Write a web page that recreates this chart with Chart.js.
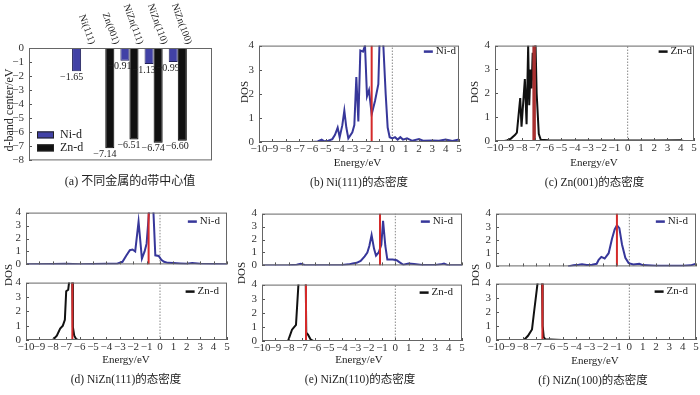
<!DOCTYPE html>
<html>
<head>
<meta charset="utf-8">
<script src="https://cdn.jsdelivr.net/npm/chart.js@4"></script>
<style>
  body { margin: 0; background: #fff; }
  #page { position: relative; width: 700px; height: 395px; overflow: hidden;
          font-family: "Liberation Serif", "Noto Sans CJK SC", serif; color: #222; }
  canvas { position: absolute; }
  .t { position: absolute; white-space: nowrap; transform: translate(-50%, -50%); }
  .v { transform: translate(-50%, -50%) rotate(-90deg); }
</style>
</head>
<body>
<div id="page"></div>
<script>
// d-band centres (eV) per surface
const surfaces = ['Ni(111)', 'Zn(001)', 'NiZn(111)', 'NiZn(110)', 'NiZn(100)'];
const niCenter = [-1.65, null, -0.91, -1.13, -0.99];
const znCenter = [null, -7.14, -6.51, -6.74, -6.60];

// projected DOS curves, [energy eV, DOS]
const ni111 = [[-10,0],[-6,0],[-5.6,0.02],[-5.3,0.1],[-5.1,0.03],[-4.8,0.05],[-4.5,0.12],[-4.3,0.3],
  [-4.1,0.6],[-3.95,0.2],[-3.75,0.7],[-3.6,1.3],[-3.45,0.6],[-3.3,0.15],[-3.0,0.4],[-2.85,0.7],
  [-2.7,2.7],[-2.55,0.85],[-2.4,3.8],[-2.2,3.75],[-2.05,4.0],[-1.9,1.9],[-1.75,2.15],[-1.55,1.15],
  [-1.3,1.7],[-1.05,2.4],[-0.95,4.3],[-0.7,4.3],[-0.5,2.0],[-0.35,0.6],[-0.2,0.2],[0,0.15],[0.2,0.2],
  [0.4,0.1],[0.6,0.2],[0.8,0.1],[1.1,0.15],[1.5,0.05],[2.0,0.12],[2.3,0.05],[3.0,0.06],[3.5,0.05],
  [4.0,0.1],[4.5,0.04],[5,0.1]];
const zn001 = [[-9.3,0],[-9.1,0.02],[-8.8,0.1],[-8.5,0.25],[-8.35,0.35],[-8.1,1.8],[-8.0,0.6],
  [-7.75,2.6],[-7.62,0.7],[-7.5,4.0],[-7.42,1.5],[-7.32,3.0],[-7.24,2.2],[-7.16,3.7],[-7.06,2.5],
  [-6.95,4.2],[-6.86,2.0],[-6.7,0.3],[-6.55,0.05],[-6,0.03],[-5,0.02],[-3,0.02],[0,0.02],[2,0.02],
  [4,0.03],[4.2,0]];
const nizn111Ni = [[-10,0.02],[-8,0.04],[-7,0.05],[-6,0.02],[-5,0.04],[-4,0.05],[-3.2,0.05],[-2.8,0.2],
  [-2.5,0.7],[-2.25,1.1],[-2.05,1.15],[-1.85,1.0],[-1.6,3.3],[-1.35,0.45],[-1.15,1.0],[-1.0,1.6],
  [-0.8,4.3],[-0.5,4.3],[-0.35,0.7],[-0.1,0.65],[0.1,0.35],[0.3,0.2],[0.6,0.12],[1.0,0.1],[1.5,0.07],
  [2.0,0.05],[2.4,0.1],[3.0,0.05],[4.0,0.03],[5,0.02]];
const nizn111Zn = [[-8.0,0],[-7.7,0.3],[-7.45,0.8],[-7.25,1.0],[-7.1,1.4],[-7.0,3.4],[-6.85,3.5],
  [-6.75,4.3],[-6.55,4.3],[-6.5,0.9],[-6.4,0.3],[-6.25,0.05],[-6.1,0]];
const nizn110Ni = [[-10,0],[-8,0.01],[-7.4,0.05],[-7.1,0.12],[-6.8,0.03],[-6,0.01],[-4,0.03],[-3.5,0.08],
  [-3.2,0.15],[-2.9,0.2],[-2.6,0.35],[-2.3,0.7],[-2.1,1.0],[-1.95,1.5],[-1.78,2.35],[-1.6,1.3],
  [-1.45,0.75],[-1.25,1.0],[-1.05,1.6],[-0.92,3.45],[-0.75,1.5],[-0.6,0.45],[-0.2,0.45],[0.1,0.4],
  [0.3,0.25],[0.6,0.05],[1.0,0.15],[1.4,0.1],[2,0.03],[3,0.04],[3.4,0.08],[3.65,0.15],[3.9,0.04],
  [4.5,0.02],[5,0.02]];
const nizn110Zn = [[-8.05,0],[-7.75,0.8],[-7.45,1.15],[-7.25,4.3],[-6.72,4.3],[-6.68,0.6],[-6.55,0.45],
  [-6.35,0.1],[-6.15,0]];
const nizn100Ni = [[-4.6,0],[-4.2,0.08],[-3.8,0.12],[-3.55,0.16],[-3.2,0.1],[-2.8,0.12],[-2.45,0.2],
  [-2.3,0.5],[-2.1,0.72],[-1.85,0.6],[-1.55,1.0],[-1.3,2.1],[-1.1,2.8],[-0.93,3.12],[-0.75,2.9],
  [-0.55,1.66],[-0.3,0.65],[-0.05,0.25],[0.3,0.15],[0.75,0.2],[1.0,0.1],[2,0.05],[3,0.05],[4,0.04],
  [4.6,0.08],[5,0.2]];
const nizn100Zn = [[-7.9,0],[-7.6,0.3],[-7.3,0.75],[-7.15,1.95],[-6.95,3.5],[-6.85,4.3],[-6.55,4.3],
  [-6.5,1.0],[-6.42,0.2],[-6.3,0.05],[-5.5,0.02],[-5.05,0]];

// red centre markers as drawn in panels (b),(d),(e),(f) and (c),(d),(e),(f)
const markNi = [-1.55, -0.85, -1.15, -0.93];
const markZn = [-7.05, -6.54, -6.7, -6.52];

const NI_COLOR = '#37379a';
const ZN_COLOR = '#111111';

Chart.defaults.font.family = '"Liberation Serif", serif';
Chart.defaults.font.size = 11;
Chart.defaults.color = '#333';

const page = document.getElementById('page');
const minus = v => String(v).replace('-', '\u2212');

function makeCanvas(area, m) {
  const cv = document.createElement('canvas');
  const w = area[2] - area[0] + m.left + m.right;
  const h = area[3] - area[1] + m.top + m.bottom;
  cv.width = w;
  cv.height = h;
  cv.style.left = (area[0] - m.left) + 'px';
  cv.style.top = (area[1] - m.top) + 'px';
  page.appendChild(cv);
  return cv;
}

function label(text, x, y, size, vertical) {
  const d = document.createElement('div');
  d.className = vertical ? 't v' : 't';
  d.textContent = text;
  d.style.left = x + 'px';
  d.style.top = y + 'px';
  d.style.fontSize = size + 'px';
  page.appendChild(d);
}

// frame, inward ticks and the little line legend
const decor = {
  id: 'decor',
  afterDatasetsDraw(chart, args, o) {
    const { ctx, chartArea: a } = chart;
    const xs = chart.scales.x, ys = chart.scales.y;
    ctx.save();
    ctx.strokeStyle = '#555';
    ctx.lineWidth = 1;
    if (o.xTicks) {
      xs.ticks.forEach(t => {
        const p = Math.round(xs.getPixelForValue(t.value)) + 0.5;
        ctx.beginPath(); ctx.moveTo(p, a.bottom); ctx.lineTo(p, a.bottom - 3); ctx.stroke();
      });
    }
    ys.ticks.forEach(t => {
      const p = Math.round(ys.getPixelForValue(t.value)) + 0.5;
      ctx.beginPath(); ctx.moveTo(a.left, p); ctx.lineTo(a.left + 3, p); ctx.stroke();
    });
    ctx.strokeStyle = '#666';
    ctx.strokeRect(a.left + 0.5, a.top + 0.5, a.width - 1, a.height - 1);
    if (o.legend) {
      const lg = o.legend;
      ctx.font = '11px "Liberation Serif"';
      ctx.fillStyle = '#222';
      ctx.textAlign = 'right';
      ctx.textBaseline = 'middle';
      const tx = a.right - lg.dx, ty = a.top + lg.dy;
      ctx.fillText(lg.text, tx, ty);
      const w = ctx.measureText(lg.text).width;
      ctx.strokeStyle = lg.color;
      ctx.lineWidth = 2.5;
      ctx.beginPath(); ctx.moveTo(tx - w - 12, ty); ctx.lineTo(tx - w - 3, ty); ctx.stroke();
    }
    ctx.restore();
  }
};

function dosChart(area, curve, color, name, mark, showX, markStyle, lg) {
  const m = { left: 22, top: 8, right: 4, bottom: showX ? 18 : 8 };
  const cv = makeCanvas(area, m);
  return new Chart(cv, {
    type: 'line',
    data: {
      datasets: [
        { data: [{ x: mark, y: 0 }, { x: mark, y: 4 }],
          borderColor: markStyle.color, borderWidth: markStyle.width },
        { data: curve.map(p => ({ x: p[0], y: p[1] })), borderColor: color, borderWidth: 2 },
        { data: [{ x: 0, y: 0 }, { x: 0, y: 4 }], borderColor: '#888', borderWidth: 1, borderDash: [1.5, 1.5] }
      ]
    },
    options: {
      responsive: false,
      animation: false,
      layout: { padding: { top: m.top, right: m.right, left: 0, bottom: showX ? 0 : m.bottom } },
      elements: { point: { radius: 0 }, line: { tension: 0 } },
      plugins: {
        legend: { display: false },
        tooltip: { enabled: false },
        decor: { xTicks: true, legend: { text: name, color: color, dx: lg[0], dy: lg[1] } }
      },
      scales: {
        x: {
          type: 'linear', min: -10, max: 5,
          afterFit: s => { s.height = showX ? m.bottom : 0; },
          ticks: { display: showX, stepSize: 1, autoSkip: false, maxRotation: 0, padding: 1,
                   callback: v => minus(v) },
          grid: { display: false, drawTicks: false }, border: { display: false }
        },
        y: {
          min: 0, max: 4,
          afterFit: s => { s.width = m.left; },
          ticks: { stepSize: 1, autoSkip: false, padding: 5 },
          grid: { display: false, drawTicks: false }, border: { display: false }
        }
      }
    },
    plugins: [decor]
  });
}

// ---- panel (a): bars ----
const barDecor = {
  id: 'barDecor',
  afterDatasetsDraw(chart) {
    const { ctx, chartArea: a } = chart;
    const xs = chart.scales.x;
    ctx.save();
    ctx.font = '10px "Liberation Serif"';
    ctx.fillStyle = '#222';
    ctx.textAlign = 'center';
    ctx.textBaseline = 'top';
    chart.data.datasets.forEach((ds, di) => {
      chart.getDatasetMeta(di).data.forEach((bar, i) => {
        const v = ds.data[i].y;
        if (v === null) return;
        ctx.fillText(minus(v.toFixed(2)), bar.x - 5, bar.y + 1);
      });
    });
    ctx.textAlign = 'right';
    ctx.textBaseline = 'middle';
    surfaces.forEach((s, i) => {
      ctx.save();
      ctx.translate(xs.getPixelForValue(i + 1) + 11, a.top - 4);
      ctx.rotate(70 * Math.PI / 180);
      ctx.fillText(s, 0, 0);
      ctx.restore();
    });
    ctx.font = '12px "Liberation Serif"';
    ctx.textAlign = 'left';
    chart.data.datasets.forEach((ds, di) => {
      const y = a.bottom - 29 + di * 13;
      ctx.fillStyle = ds.backgroundColor;
      ctx.fillRect(a.left + 8, y, 17, 7);
      ctx.strokeStyle = '#222';
      ctx.strokeRect(a.left + 8.5, y + 0.5, 16, 6);
      ctx.fillStyle = '#222';
      ctx.fillText(ds.label, a.left + 31, y + 3.5);
    });
    ctx.restore();
  }
};

const aArea = [29, 48, 212, 164];
const aM = { left: 26, top: 46, right: 4, bottom: 8 };
new Chart(makeCanvas(aArea, aM), {
  type: 'bar',
  data: {
    datasets: [
      { label: 'Ni-d', data: niCenter.map((v, i) => ({ x: i + 1, y: v })),
        backgroundColor: '#4141a6', borderColor: '#22225a', borderWidth: 1,
        categoryPercentage: 0.75, barPercentage: 1 },
      { label: 'Zn-d', data: znCenter.map((v, i) => ({ x: i + 1, y: v })),
        backgroundColor: ZN_COLOR, borderColor: '#000', borderWidth: 1,
        categoryPercentage: 0.75, barPercentage: 1 }
    ]
  },
  options: {
    responsive: false,
    animation: false,
    layout: { padding: { top: aM.top, right: aM.right, left: 0, bottom: aM.bottom } },
    plugins: { legend: { display: false }, tooltip: { enabled: false }, decor: { xTicks: false } },
    scales: {
      x: { type: 'linear', display: false, min: -0.21, max: 5.47 },
      y: {
        min: -8, max: 0,
        afterFit: s => { s.width = aM.left; },
        ticks: { stepSize: 1, autoSkip: false, padding: 5, callback: v => minus(v) },
        grid: { display: false, drawTicks: false }, border: { display: false }
      }
    }
  },
  plugins: [decor, barDecor]
});

// ---- DOS panels ----
const redThin = { color: '#d42a2a', width: 2 };
const redThick = { color: '#a83030', width: 3.5 };
dosChart([259, 42, 459, 142], ni111, NI_COLOR, 'Ni-d', markNi[0], true, redThin, [3, 6]);
dosChart([495, 42, 694, 141], zn001, ZN_COLOR, 'Zn-d', markZn[0], true, redThick, [2, 6]);
dosChart([26, 209, 227, 268], nizn111Ni, NI_COLOR, 'Ni-d', markNi[1], false, redThin, [7, 9]);
dosChart([26, 279, 227, 340], nizn111Zn, ZN_COLOR, 'Zn-d', markZn[1], true, redThin, [8, 9]);
dosChart([262, 210, 462, 269], nizn110Ni, NI_COLOR, 'Ni-d', markNi[2], false, redThin, [9, 8]);
dosChart([262, 281, 462, 341], nizn110Zn, ZN_COLOR, 'Zn-d', markZn[2], true, redThin, [9, 8]);
dosChart([496, 210, 696, 270], nizn100Ni, NI_COLOR, 'Ni-d', markNi[3], false, redThin, [8, 8]);
dosChart([496, 280, 696, 340], nizn100Zn, ZN_COLOR, 'Zn-d', markZn[3], true, redThin, [8, 8]);

// ---- axis titles and captions ----
label('d-band center/eV', 8.5, 110, 12, true);
label('DOS', 243.5, 92, 11, true);
label('DOS', 474, 92, 11, true);
label('DOS', 8, 275, 11, true);
label('DOS', 241, 273, 11, true);
label('DOS', 475, 275, 11, true);
label('Energy/eV', 357.5, 162, 11);
label('Energy/eV', 594, 162, 11);
label('Energy/eV', 126, 359, 11);
label('Energy/eV', 359, 359, 11);
label('Energy/eV', 595, 360, 11);
label('(a) 不同金属的d带中心值', 130, 180, 12);
label('(b) Ni(111)的态密度', 359, 181, 11.5);
label('(c) Zn(001)的态密度', 594.5, 181, 11.5);
label('(d) NiZn(111)的态密度', 126, 378, 11.5);
label('(e) NiZn(110)的态密度', 360, 378, 11.5);
label('(f) NiZn(100)的态密度', 593, 379, 11.5);
</script>
</body>
</html>
